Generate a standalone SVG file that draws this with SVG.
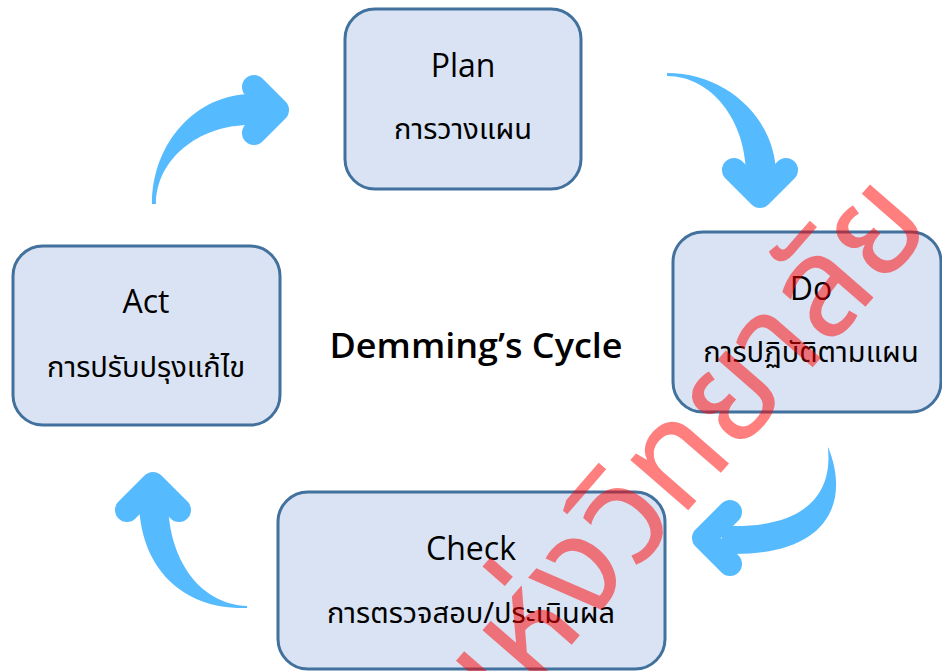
<svg xmlns="http://www.w3.org/2000/svg" width="942" height="671" viewBox="0 0 942 671">
<style>
.box{fill:#DAE3F3;stroke:#41719C;stroke-width:3}
.en{font-family:"Open Sans","Liberation Sans",sans-serif;font-size:32px;fill:#000;text-anchor:middle}
.th{font-family:"Noto Sans Thai","Noto Sans","Liberation Sans",sans-serif;font-size:29px;fill:#000;text-anchor:middle}
.body{fill:#56BBFE}
.head{fill:none;stroke:#56BBFE;stroke-width:24;stroke-linecap:round;stroke-linejoin:round}
.wm{font-family:"Noto Sans Thai","Noto Sans",sans-serif;font-size:140px;fill:#FF0000;fill-opacity:0.5}
</style>
<rect width="942" height="671" fill="#fff"/>
<g id="connectors">
<g id="act-plan"><path class="body" d="M152,204 C152,143 196,94 252,94 L262,94 L262,125 L250,125 C198,125 156,160 156,204 Z"/><polyline class="head" points="254,87 277,110 254,133"/></g>
<g id="plan-do"><path class="body" d="M667,73 C727,73 776,119 776,175 L776,188 L746,188 L746,175 C746,120 711,76 667,76 Z"/><polyline class="head" points="734,170 760,196 786,170"/></g>
<g id="do-check"><path class="body" d="M828,447 C850,500 830,554 735,554 L722,554 L722,526 L735,526 C810,526 832,490 828,449 Z"/><polyline class="head" points="730,512 704,538 730,564"/></g>
<g id="check-act"><path class="body" d="M247,608 C180,610 139,565 139,500 L139,492 L168,492 L168,500 C168,560 200,604 247,606 Z"/><polyline class="head" points="127,510 153,484 179,510"/></g>
</g>
<g id="plan"><rect class="box" x="345" y="9" width="236" height="180" rx="30"/><text class="en" x="463" y="77">Plan</text><text class="th" x="463" y="139">การวางแผน</text></g>
<g id="do"><rect class="box" x="673" y="232" width="268" height="180" rx="30"/><text class="en" x="811" y="300">Do</text><text class="th" x="811" y="362">การปฏิบัติตามแผน</text></g>
<g id="check"><rect class="box" x="278" y="492" width="387" height="177" rx="30"/><text class="en" x="471" y="560">Check</text><text class="th" x="471" y="623">การตรวจสอบ/ประเมินผล</text></g>
<g id="act"><rect class="box" x="13" y="246" width="267" height="179" rx="30"/><text class="en" x="146" y="313">Act</text><text class="th" x="146" y="377">การปรับปรุงแก้ไข</text></g>
<g id="title"><text x="476" y="358" font-family="Open Sans, Liberation Sans, sans-serif" font-size="34" font-weight="600" text-anchor="middle" textLength="293" lengthAdjust="spacingAndGlyphs">Demming’s Cycle</text></g>
<text class="wm" transform="translate(480,750) rotate(-49)">แห่งวิทยาลัย</text>
</svg>
